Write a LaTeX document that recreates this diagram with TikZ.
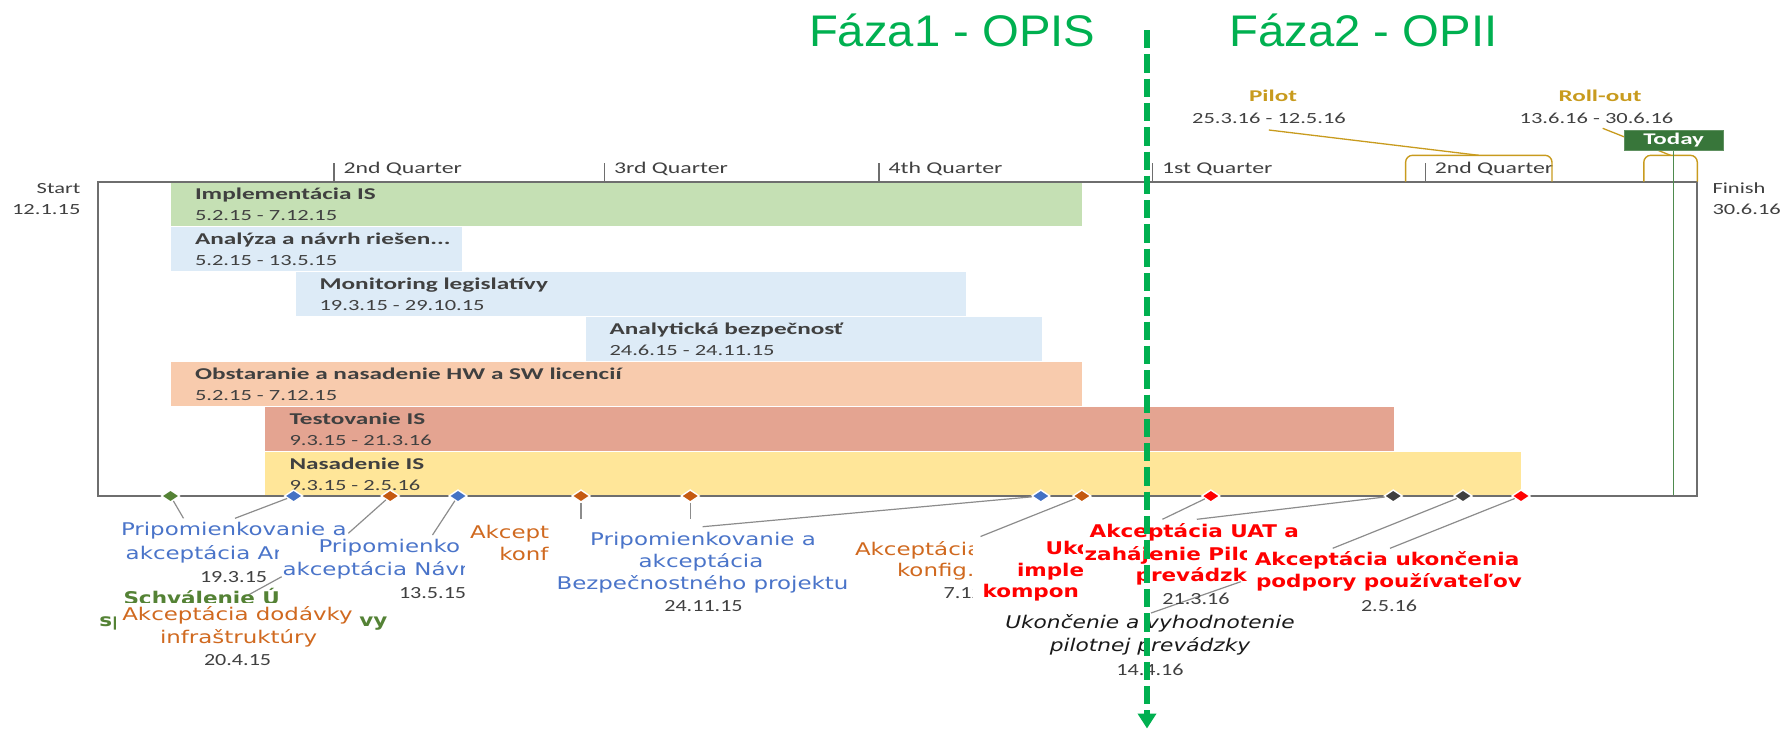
\documentclass[tikz,border=0pt]{standalone}
\usepackage{fontspec}
\usetikzlibrary{shapes.geometric,arrows.meta}
\newfontfamily\GanttR[FakeStretch=1.45]{Carlito}
\newfontfamily\GanttD[FakeStretch=1.3]{Carlito}
\newfontfamily\GanttB[FakeStretch=1.53]{Carlito}
\newfontfamily\MsR[FakeStretch=1.31]{DejaVu Sans}
\newfontfamily\MsB[FakeStretch=1.23]{DejaVu Sans}
\newfontfamily\MsI[FakeStretch=1.24]{DejaVu Sans}
\newfontfamily\TitleF[FakeStretch=1.067]{Liberation Sans}
\definecolor{txt}{HTML}{404040}
\definecolor{gfill}{HTML}{C5E0B4}
\definecolor{bfill}{HTML}{DDEBF7}
\definecolor{ofill}{HTML}{F8CBAD}
\definecolor{rfill}{HTML}{E4A491}
\definecolor{yfill}{HTML}{FFE699}
\definecolor{phase}{HTML}{00B050}
\definecolor{gold}{HTML}{C89B1E}
\definecolor{todayc}{HTML}{38763A}
\definecolor{todayl}{HTML}{4E8A4E}
\definecolor{msgreen}{HTML}{548235}
\definecolor{msblue}{HTML}{4472C4}
\definecolor{msorange}{HTML}{C55A11}
\definecolor{msred}{HTML}{FF0000}
\definecolor{msdark}{HTML}{404040}
\definecolor{lblue}{HTML}{4A74C9}
\definecolor{lorange}{HTML}{D0691F}
\definecolor{leadc}{HTML}{8C8C8C}
\definecolor{frame}{HTML}{6E6E6E}
\tikzset{
 tx/.style={inner sep=0pt, outer sep=0pt},
 ttl/.style={tx, anchor=base west, text=phase, font=\TitleF\fontsize{44.3}{50}\selectfont},
 qlab/.style={tx, anchor=base west, text=txt, font=\GanttR\fontsize{16.4}{20}\selectfont},
 dlab/.style={tx, text=txt, font=\GanttR\fontsize{15.5}{19}\selectfont},
 mdate/.style={tx, text=txt, font=\GanttD\fontsize{17}{20}\selectfont},
 blab/.style={tx, anchor=base west, text=txt, font=\GanttB\bfseries\fontsize{16.5}{20}\selectfont},
 goldlab/.style={tx, anchor=base, text=gold, font=\GanttB\bfseries\fontsize{16.4}{20}\selectfont},
 mr/.style={tx, font=\MsR\fontsize{17.5}{21}\selectfont},
 mb/.style={tx, font=\MsB\bfseries\fontsize{17.5}{21}\selectfont},
 mi/.style={tx, text=black!90, font=\MsI\itshape\fontsize{17.5}{21}\selectfont},
 ms/.style={diamond, draw=white, line width=1.4pt, inner sep=0pt, minimum width=18.5pt, minimum height=12.5pt},
 lead/.style={draw=leadc, line width=1.2pt},
 qtick/.style={draw=frame, line width=1.1pt},
 goldline/.style={draw=gold, line width=1.4pt},
 framebox/.style={draw=frame, line width=2pt},
 phaseline/.style={draw=phase, line width=6.3pt, dash pattern=on 18.3pt off 6pt, -{Triangle[length=15pt,width=18pt]}},
}
\begin{document}
\begin{tikzpicture}[x=1pt,y=-1pt]
\useasboundingbox (0,0) rectangle (1783,729);
% titles
\node[ttl] (t1) at (809,46.7) {Fáza1 - OPIS};
\node[ttl] (t2) at (1229.4,46.7) {Fáza2 - OPII};
% bars
\fill[gfill] (171,182) rectangle (1082,226);
\fill[bfill] (171,227) rectangle (461.5,271);
\fill[bfill] (295.6,272) rectangle (966,316);
\fill[bfill] (585.5,317) rectangle (1042,361);
\fill[ofill] (171,362) rectangle (1082,406);
\fill[rfill] (265.2,407) rectangle (1394.4,451);
\fill[yfill] (265.2,452) rectangle (1520.5,496);
\node[blab] (b1t) at (195,199.3) {Implementácia IS};
\node[dlab, anchor=base west] (b1d) at (195,220.3) {5.2.15 - 7.12.15};
\node[blab] (b2t) at (195,244.3) {Analýza a návrh riešen...};
\node[dlab, anchor=base west] (b2d) at (195,265.3) {5.2.15 - 13.5.15};
\node[blab] (b3t) at (319.6,289.3) {Monitoring legislatívy};
\node[dlab, anchor=base west] (b3d) at (319.6,310.3) {19.3.15 - 29.10.15};
\node[blab] (b4t) at (609.5,334.3) {Analytická bezpečnosť};
\node[dlab, anchor=base west] (b4d) at (609.5,355.3) {24.6.15 - 24.11.15};
\node[blab] (b5t) at (195,379.3) {Obstaranie a nasadenie HW a SW licencií};
\node[dlab, anchor=base west] (b5d) at (195,400.3) {5.2.15 - 7.12.15};
\node[blab] (b6t) at (289.5,424.3) {Testovanie IS};
\node[dlab, anchor=base west] (b6d) at (289.5,445.3) {9.3.15 - 21.3.16};
\node[blab] (b7t) at (289.5,469.3) {Nasadenie IS};
\node[dlab, anchor=base west] (b7d) at (289.5,490.8) {9.3.15 - 2.5.16};
% frame
\draw[framebox] (98,182) rectangle (1697,496);
% quarter ticks
\foreach \x/\q [count=\i] in {334/2nd Quarter, 604.5/3rd Quarter, 879/4th Quarter, 1152.5/1st Quarter, 1425.3/2nd Quarter}{
  \draw[qtick] (\x,163) -- (\x,182);
  \node[qlab] (q\i) at (\x+9.5,173) {\q};
}
\node[dlab, anchor=base east] (st) at (80.4,193) {Start};
\node[dlab, anchor=base east] (sd) at (80.4,214.3) {12.1.15};
\node[dlab, anchor=base west] (fi) at (1712.5,193) {Finish};
\node[dlab, anchor=base west] (fd) at (1712.5,214.3) {30.6.16};
% pilot / roll-out
\draw[goldline, rounded corners=7pt] (1405.6,181.7) -- (1405.6,155.3) -- (1552,155.3) -- (1552,181.7);
\draw[goldline, rounded corners=7pt] (1643.8,181.7) -- (1643.8,155.3) -- (1697.3,155.3) -- (1697.3,181.7);
\coordinate (pb) at (1478.8,155.3);
\coordinate (rb) at (1670.5,155.3);
\node[goldlab] (pl) at (1273,101.3) {Pilot};
\node[dlab, anchor=base] (pd) at (1269,123) {25.3.16 - 12.5.16};
\node[goldlab] (rl) at (1600,101.3) {Roll-out};
\node[dlab, anchor=base] (rd) at (1596.5,123) {13.6.16 - 30.6.16};
\coordinate (pls) at (1268.8,130);
\coordinate (rls) at (1602.7,128.3);
\draw[draw=gold, line width=1.3pt] (pls) -- (pb);
\draw[draw=gold, line width=1.3pt] (rls) -- (rb);
\node[fill=todayc, draw=todayc!80!white, line width=0.8pt, text=white, inner sep=0pt, minimum width=99pt, minimum height=20.7pt, font=\GanttB\bfseries\fontsize{16.3}{20}\selectfont] (today) at (1673.6,140.3) {Today};
\coordinate (tb) at (1673.6,495);
\draw[draw=todayl, line width=1.5pt] (today.south) -- (tb);
% milestones
\node[ms, fill=msgreen] (m1) at (170.5,496) {};
\node[ms, fill=msblue] (m2) at (293.6,496) {};
\node[ms, fill=msorange] (m3) at (390.2,496) {};
\node[ms, fill=msblue] (m4) at (458,496) {};
\node[ms, fill=msorange] (m5) at (581,496) {};
\node[ms, fill=msorange] (m6) at (690.2,496) {};
\node[ms, fill=msblue] (m7) at (1040.8,496) {};
\node[ms, fill=msorange] (m8) at (1081.9,496) {};
\node[ms, fill=msred] (m9) at (1210.8,496) {};
\node[ms, fill=msdark] (m10) at (1393.2,496) {};
\node[ms, fill=msdark] (m11) at (1463,496) {};
\node[ms, fill=msred] (m12) at (1521,496) {};
% leader lines (visible parts)
\coordinate (c1) at (183.5,518.3);
\coordinate (c2) at (235,518.3);
\coordinate (c3a) at (348.3,533.3);
\coordinate (c3b) at (281.7,576.7);
\coordinate (c3c) at (248.3,595);
\coordinate (c4) at (432.5,535);
\coordinate (c5) at (581,519);
\coordinate (c6) at (690.2,519);
\coordinate (c7) at (702.6,526.7);
\coordinate (c8) at (980.5,536.5);
\coordinate (c9) at (1162.4,519.3);
\coordinate (c10) at (1196.8,519.3);
\coordinate (c11a) at (1332.7,548.3);
\coordinate (c11b) at (1240.8,581.7);
\coordinate (c11c) at (1151,613);
\coordinate (c12) at (1390,548.3);
\draw[lead] (m1) -- (c1);
\draw[lead] (m2) -- (c2);
\draw[lead] (m3) -- (c3a);
\draw[lead] (c3b) -- (c3c);
\draw[lead] (m4) -- (c4);
\draw[lead] (m5) -- (c5);
\draw[lead] (m6) -- (c6);
\draw[lead] (m7) -- (c7);
\draw[lead] (m8) -- (c8);
\draw[lead] (m9) -- (c9);
\draw[lead] (m10) -- (c10);
\draw[lead] (m11) -- (c11a);
\draw[lead] (c11b) -- (c11c);
\draw[lead] (m12) -- (c12);
% label A
\node[mr, anchor=base west, text=lblue] (a1) at (121,535.7) {Pripomienkovanie a};
\begin{scope}
\clip (100,540) rectangle (278,570);
\node[mr, anchor=base west, text=lblue] (a2) at (125.7,559.2) {akceptácia An};
\end{scope}
\node[mdate, anchor=base west] (a3) at (200,582.3) {19.3.15};
% green label fragments
\begin{scope}
\clip (100,585) rectangle (278,602.5);
\node[mb, anchor=base west, text=msgreen] (g1) at (123.5,604.5) {Schválenie Ú};
\end{scope}
\begin{scope}
\clip (95,610) rectangle (115,632);
\node[mb, anchor=base west, text=msgreen] (g2) at (99.3,626.7) {sp};
\end{scope}
\node[mb, anchor=base west, text=msgreen] (g3) at (359.3,626.7) {vy};
% label C
\node[mr, anchor=base west, text=lorange] (cc1) at (122.3,620) {Akceptácia dodávky};
\node[mr, anchor=base west, text=lorange] (cc2) at (160,643.3) {infraštruktúry};
\node[mdate, anchor=base west] (cc3) at (204,665.5) {20.4.15};
% label B
\begin{scope}
\clip (275,535) rectangle (464.2,610);
\node[mr, anchor=base west, text=lblue] (bb1) at (318.5,552.2) {Pripomienko};
\node[mr, anchor=base west, text=lblue] (bb2) at (282.5,575.2) {akceptácia Návr};
\node[mdate, anchor=base west] (bb3) at (399,598.3) {13.5.15};
\end{scope}
% label D
\begin{scope}
\clip (464.2,520) rectangle (548.7,570);
\node[mr, anchor=base west, text=lorange] (d1) at (470,538.3) {Akcept};
\node[mr, anchor=base west, text=lorange] (d2) at (499.4,560) {konf};
\end{scope}
% label E
\node[mr, anchor=base, text=lblue] (e1) at (703,545) {Pripomienkovanie a};
\node[mr, anchor=base, text=lblue] (e2) at (701,567.7) {akceptácia};
\node[mr, anchor=base, text=lblue] (e3) at (702.5,589.3) {Bezpečnostného projektu};
\node[mdate, anchor=base] (e4) at (703.5,611.7) {24.11.15};
% label F
\begin{scope}
\clip (840,537) rectangle (972.4,610);
\node[mr, anchor=base west, text=lorange] (f1) at (855,555) {Akceptácia};
\node[mr, anchor=base west, text=lorange] (f2) at (897,576.7) {konfig.};
\node[mdate, anchor=base west] (f3) at (943.7,598.3) {7.12};
\end{scope}
% label G
\begin{scope}
\clip (975,537) rectangle (1082,606);
\node[mb, anchor=base west, text=msred] (gg1) at (1045.7,554) {Uko};
\node[mb, anchor=base west, text=msred] (gg2) at (1017,576.7) {imple};
\node[mb, anchor=base west, text=msred] (gg3) at (982.5,597.5) {kompon};
\end{scope}
% label H
\begin{scope}
\clip (1082,519) -- (1320,519) -- (1320,546) -- (1246.6,546) -- (1246.6,612) -- (1082,612) -- cycle;
\node[mb, anchor=base west, text=msred] (h1) at (1089.7,537.3) {Akceptácia UAT a};
\node[mb, anchor=base west, text=msred] (h2) at (1084.7,560) {zahájenie Pilo};
\node[mb, anchor=base west, text=msred] (h3) at (1135.6,581.7) {prevádzky};
\node[mdate, anchor=base west] (h4) at (1162.4,604) {21.3.16};
\end{scope}
% label I
\node[mb, anchor=base, text=msred] (i1) at (1387,565) {Akceptácia ukončenia};
\node[mb, anchor=base, text=msred] (i2) at (1389,587.3) {podpory používateľov};
\node[mdate, anchor=base] (i3) at (1389,611) {2.5.16};
% label J
\node[mi, anchor=base] (j1) at (1150,628.3) {Ukončenie a vyhodnotenie};
\node[mi, anchor=base] (j2) at (1150,651.7) {pilotnej prevádzky};
\node[mdate, anchor=base] (j3) at (1150,675) {14.4.16};
% phase divider
\coordinate (ph1) at (1147,30);
\coordinate (ph2) at (1147,728.5);
\draw[phaseline] (ph1) -- (ph2);
\end{tikzpicture}
\end{document}
